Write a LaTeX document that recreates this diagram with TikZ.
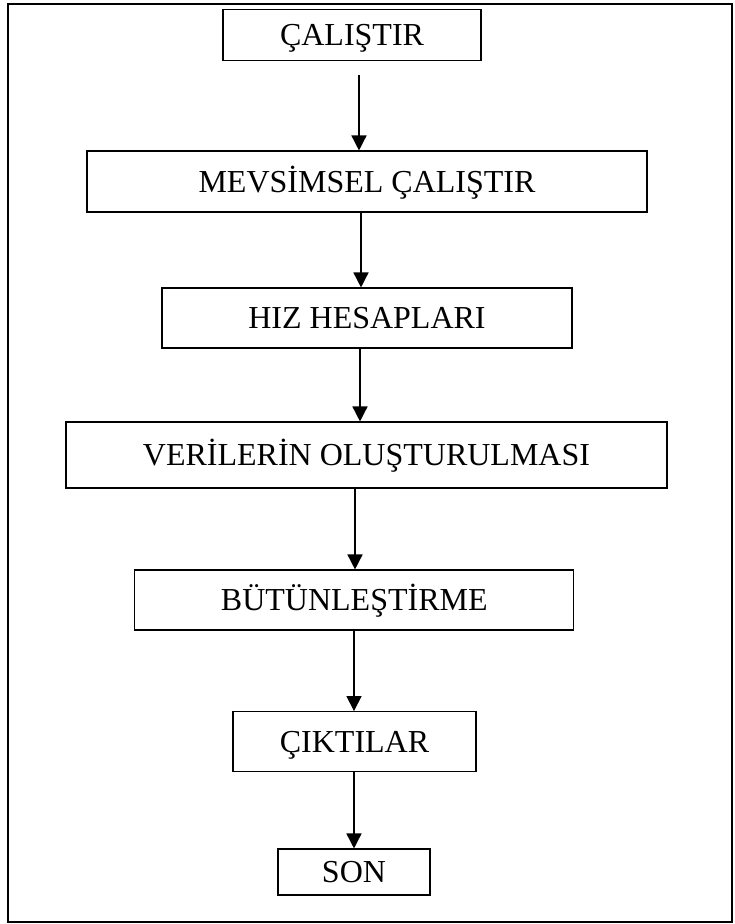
\documentclass[tikz,border=0pt]{standalone}
\usepackage{fontspec}
\setmainfont{Liberation Serif}
\usepackage{tikz}
\usetikzlibrary{arrows.meta}

\tikzset{
  adim/.style={draw, line width=1.1pt, inner sep=0pt, text height=21.2pt, text depth=0pt,
    font=\fontsize{32}{37}\selectfont},
  akis/.style={line width=1.5pt, -{Triangle[length=15pt,width=15pt]}}
}

\begin{document}
\begin{tikzpicture}[x=1pt,y=-1pt]
\useasboundingbox (0,0) rectangle (734,924);
\draw[line width=1.8pt] (8,4) rectangle (732,922);

\node[adim, minimum width=258pt, minimum height=51pt] (calistir) at (352,35) {ÇALIŞTIR};
\node[adim, minimum width=560pt, minimum height=61pt] (mevsimsel) at (367,181.5) {MEVSİMSEL ÇALIŞTIR};
\node[adim, minimum width=410pt, minimum height=60pt] (hiz) at (367,318) {HIZ HESAPLARI};
\node[adim, minimum width=601pt, minimum height=66pt] (veriler) at (366.5,455) {VERİLERİN OLUŞTURULMASI};
\node[adim, minimum width=439pt, minimum height=60pt] (butun) at (354.3,600) {BÜTÜNLEŞTİRME};
\node[adim, minimum width=243pt, minimum height=60pt] (ciktilar) at (354.5,741.6) {ÇIKTILAR};
\node[adim, minimum width=152pt, minimum height=46pt] (son) at (354,872) {SON};

\coordinate (k1) at (359,75);
\draw[akis] (k1) -- (mevsimsel.north -| k1);
\draw[akis] (mevsimsel.south -| 361,0) -- (hiz.north -| 361,0);
\draw[akis] (hiz.south -| 360,0) -- (veriler.north -| 360,0);
\draw[akis] (veriler.south -| 355,0) -- (butun.north -| 355,0);
\draw[akis] (butun.south -| 354,0) -- (ciktilar.north -| 354,0);
\draw[akis] (ciktilar.south -| 354,0) -- (son.north -| 354,0);
\end{tikzpicture}
\end{document}
